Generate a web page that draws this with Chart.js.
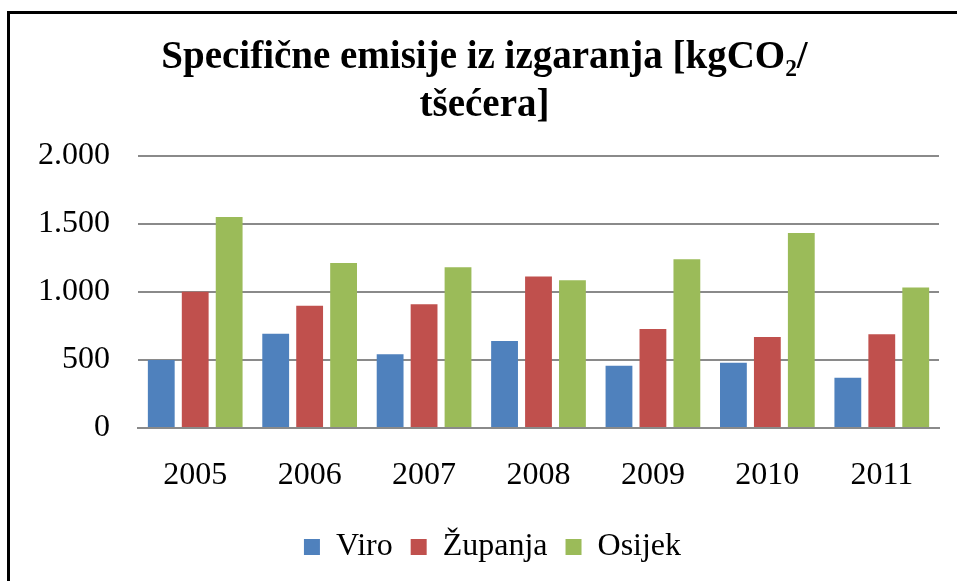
<!DOCTYPE html>
<html>
<head>
<meta charset="utf-8">
<script src="https://cdn.jsdelivr.net/npm/chart.js@4"></script>
<style>
  html, body { margin: 0; padding: 0; background: #fff; overflow: hidden; }
  #frame {
    position: absolute; left: 7px; top: 11px;
    width: 950px; height: 570px;
    border-top: 3px solid #000; border-left: 3px solid #000;
  }
  #wrap { position: absolute; left: 0; top: 0; width: 947px; height: 567px; }
</style>
</head>
<body>
<div id="frame"><div id="wrap"><canvas id="chart"></canvas></div></div>
<script>
const years = ['2005', '2006', '2007', '2008', '2009', '2010', '2011'];
const viro = [500, 693, 542, 640, 458, 480, 370];
const zupanja = [1002, 899, 909, 1113, 728, 669, 689];
const osijek = [1551, 1213, 1181, 1086, 1240, 1434, 1032];

const serif = "'Liberation Serif', 'Times New Roman', serif";
const gridGray = '#8a8a8a';

function dotThousands(v) {
  return String(v).replace(/\B(?=(\d{3})+(?!\d))/g, '.');
}

// title and legend sit a bit right of the canvas centre in the original
const nudge = {
  id: 'nudge',
  afterLayout(chart) {
    chart.legend.left += 18;
    chart.legend.right += 18;
    chart.titleBlock.left += 10;
    chart.titleBlock.right += 10;
  }
};

new Chart(document.getElementById('chart'), {
  type: 'bar',
  data: {
    labels: years,
    datasets: [
      { label: 'Viro', data: viro, backgroundColor: '#4F81BD' },
      { label: 'Županja', data: zupanja, backgroundColor: '#C0504D' },
      { label: 'Osijek', data: osijek, backgroundColor: '#9BBB59' }
    ]
  },
  options: {
    responsive: true,
    maintainAspectRatio: false,
    animation: false,
    categoryPercentage: 0.89,
    barPercentage: 0.79,
    layout: { padding: { left: 0, right: 18, top: 0, bottom: 8 } },
    plugins: {
      title: {
        display: true,
        text: ['Specifične emisije iz izgaranja [kgCO₂/', 'tšećera]'],
        color: '#000',
        font: { family: serif, size: 39, weight: 'bold', lineHeight: 1.23 },
        padding: { top: 20, bottom: 26 }
      },
      legend: {
        position: 'bottom',
        labels: {
          color: '#000',
          font: { family: serif, size: 32 },
          boxWidth: 16,
          boxHeight: 16,
          padding: 18
        }
      },
      tooltip: { enabled: false }
    },
    scales: {
      x: {
        grid: { display: false },
        border: { display: true, color: gridGray, width: 2 },
        ticks: { color: '#000', font: { family: serif, size: 32 }, padding: 20 },
        afterFit: (s) => { s.height = 85; }
      },
      y: {
        min: 0,
        max: 2000,
        ticks: {
          stepSize: 500,
          color: '#000',
          font: { family: serif, size: 32 },
          padding: 28,
          callback: (v) => dotThousands(v)
        },
        grid: { color: gridGray, lineWidth: 2, drawTicks: false },
        border: { display: false }
      }
    }
  },
  plugins: [nudge]
});
</script>
</body>
</html>
